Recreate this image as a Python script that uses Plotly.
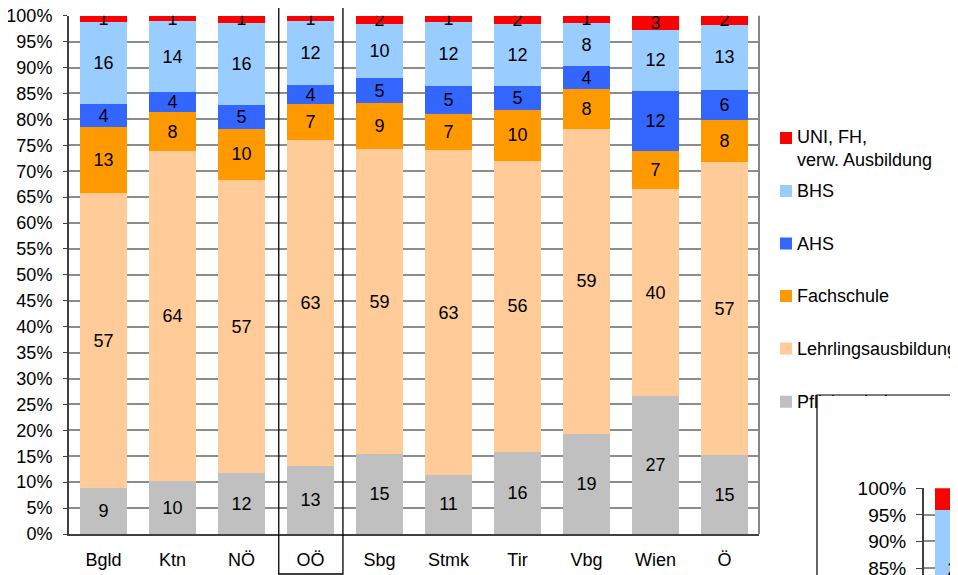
import plotly.graph_objects as go

# the page body has an 8px margin, so the figure is 8px smaller than the window
OFF = 8
W, H = 958 - OFF, 575 - OFF

regions = ['Bgld', 'Ktn', 'NÖ', 'OÖ', 'Sbg', 'Stmk', 'Tir', 'Vbg', 'Wien', 'Ö']

# Anteile in %, von unten nach oben gestapelt
pflichtschule = [8.9, 10.2, 11.7, 13.1, 15.4, 11.4, 15.8, 19.3, 26.6, 15.2]
lehre = [56.8, 63.6, 56.6, 63.0, 58.9, 62.6, 56.2, 58.9, 39.9, 56.6]
fachschule = [12.8, 7.6, 9.9, 6.8, 8.8, 7.1, 9.9, 7.6, 7.4, 8.1]
ahs = [4.4, 3.9, 4.6, 3.7, 4.9, 5.4, 4.6, 4.4, 11.6, 5.8]
bhs = [15.8, 13.6, 15.8, 12.3, 10.4, 12.2, 11.9, 8.4, 11.8, 12.6]
uni = [1.3, 1.1, 1.4, 1.1, 1.6, 1.3, 1.6, 1.4, 2.7, 1.7]

series_names = ['Pflichtschule', 'Lehrlingsausbildung', 'Fachschule', 'AHS', 'BHS',
                'UNI, FH,<br>verw. Ausbildung']
series_values = [pflichtschule, lehre, fachschule, ahs, bhs, uni]
series_colors = ['#C0C0C0', '#FFCC99', '#FF9900', '#3366FF', '#99CCFF', '#FF0000']

# angeschnittenes zweites Diagramm rechts unten (nur oberster Teil sichtbar)
inset_names = ['BHS', 'UNI']
inset_values = [22, 4]
inset_colors = ['#99CCFF', '#FF0000']

pct_ticks = list(range(0, 101, 5))
pct_labels = [f'{v}%' for v in pct_ticks]

FONT = 'Liberation Sans, Arial, sans-serif'
FS = 18


def px(x):
    return (x - OFF) / W


def py(y):
    return 1 - (y - OFF) / H


fig = go.Figure()

for name, vals, col in zip(series_names, series_values, series_colors):
    fig.add_trace(go.Bar(
        x=regions, y=vals, name=name, marker=dict(color=col, line=dict(width=0)),
        text=[f'{v:.0f}' for v in vals], textposition='inside',
        insidetextanchor='middle', textangle=0, constraintext='none',
        textfont=dict(color='black', size=FS, family=FONT),
        showlegend=False, xaxis='x', yaxis='y'
    ))

top = 100
for name, val, col in reversed(list(zip(inset_names, inset_values, inset_colors))):
    top -= val
    fig.add_trace(go.Bar(
        x=[0], y=[val], base=[top], width=0.667, name=name,
        marker=dict(color=col, line=dict(width=0)),
        text=[str(val)], textposition='inside', insidetextanchor='middle',
        textangle=0, constraintext='none',
        textfont=dict(color='black', size=19, family=FONT),
        showlegend=False, xaxis='x2', yaxis='y2'
    ))

shapes = [
    # rechter Rahmen der Zeichenfläche
    dict(type='line', xref='x domain', yref='y domain', x0=1, x1=1, y0=0, y1=1,
         line=dict(color='#868686', width=2), layer='above'),
    # Hervorhebung OÖ
    dict(type='rect', xref='x', yref='paper', x0=2.54, x1=3.47,
         y0=py(574), y1=py(0), line=dict(color='black', width=1.3), layer='above'),
    # Rahmen des zweiten Diagramms
    dict(type='rect', xref='paper', yref='paper', x0=px(817), x1=px(962),
         y0=py(579), y1=py(395), line=dict(color='black', width=1.2), layer='above'),
]

annotations = []
legend_rows = [(5, 138), (4, 191), (3, 243.5), (2, 296), (1, 348.5), (0, 401.7)]
for idx, yc in legend_rows:
    shapes.append(dict(type='rect', xref='paper', yref='paper',
                       x0=px(780), x1=px(792), y0=py(yc + 6), y1=py(yc - 6),
                       fillcolor=series_colors[idx], line=dict(width=0), layer='above'))
    ty = yc + 11 if idx == 5 else yc
    annotations.append(dict(
        text=series_names[idx], x=px(795), y=py(ty), xref='paper', yref='paper',
        xanchor='left', yanchor='middle', align='left', showarrow=False,
        font=dict(size=FS, color='black', family=FONT)
    ))

# zweites Diagramm verdeckt den Rest von "Pflichtschule"
annotations.append(dict(
    text=' ', x=px(818.5), y=py(396.3), xref='paper', yref='paper',
    xanchor='left', yanchor='top', showarrow=False, width=110, height=18,
    bgcolor='white', borderpad=0, borderwidth=0
))

fig.update_layout(
    width=W, height=H,
    margin=dict(l=0, r=0, t=0, b=0, autoexpand=False),
    paper_bgcolor='white', plot_bgcolor='white',
    barmode='stack', bargap=0.333,
    font=dict(family=FONT, size=FS, color='black'),
    xaxis=dict(domain=[px(69), px(759)], type='category', showgrid=False,
               showline=True, linecolor='#404040', linewidth=2, ticks='',
               ticklabelstandoff=8, tickfont=dict(size=FS), anchor='y',
               fixedrange=True),
    yaxis=dict(domain=[py(534), py(15.7)], range=[0, 100],
               tickvals=pct_ticks, ticktext=pct_labels, ticklabeloverflow='allow',
               showgrid=True, gridcolor='#8c8c8c', gridwidth=2,
               showline=True, linecolor='#404040', linewidth=2, ticks='outside',
               ticklen=4, tickcolor='#404040', ticklabelstandoff=7,
               zeroline=False, tickfont=dict(size=FS), anchor='x'),
    xaxis2=dict(domain=[px(924), 1], range=[-0.49, 0.0], showticklabels=False,
                showgrid=False, showline=False, zeroline=False, anchor='y2'),
    yaxis2=dict(domain=[0, py(488.3)], range=[83.7, 100],
                tickvals=pct_ticks, ticktext=pct_labels, ticklabeloverflow='allow',
                showgrid=True, gridcolor='#8c8c8c', gridwidth=2,
                showline=True, linecolor='#404040', linewidth=2, ticks='outside',
                ticklen=6, tickcolor='#404040', ticklabelstandoff=6,
                zeroline=False, tickfont=dict(size=19), anchor='x2'),
    shapes=shapes,
    annotations=annotations,
)

fig.write_html('out.html')
